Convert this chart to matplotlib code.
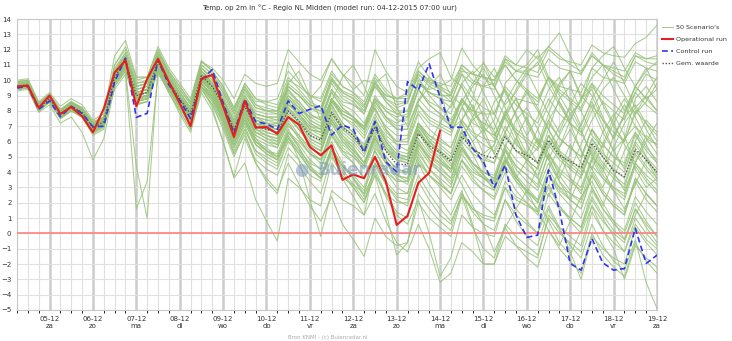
import matplotlib
matplotlib.use("Agg")
import matplotlib.pyplot as plt
import numpy as np

# time axis: 6-hourly steps from 04-12 06:00 (day numbers of December)
steps = 60
start_day = 4.25

day_labels = ["05-12\nza", "06-12\nzo", "07-12\nma", "08-12\ndi", "09-12\nwo",
              "10-12\ndo", "11-12\nvr", "12-12\nza", "13-12\nzo", "14-12\nma",
              "15-12\ndi", "16-12\nwo", "17-12\ndo", "18-12\nvr", "19-12\nza"]
day_ticks = list(range(5, 20))

operational = [9.6, 9.65, 8.2, 9.0, 7.8, 8.25, 7.65, 6.6, 8.15, 10.5, 11.3, 8.3, 10.1, 11.4,
               9.9, 8.5, 7.0, 10.1, 10.35, 8.3, 6.3, 8.65, 6.9, 6.95, 6.5, 7.6, 7.1, 5.65,
               5.1, 5.75, 3.5, 3.85, 3.6, 5.0, 3.4, 0.55, 1.15, 3.3, 3.95, 6.7]

control = [9.5, 9.6, 8.1, 8.65, 7.62, 8.3, 7.84, 6.97, 7.0, 9.9, 11.44, 7.58, 7.84, 11.33,
           9.7, 8.7, 7.5, 10.0, 10.7, 8.54, 6.53, 8.75, 7.3, 7.15, 6.8, 8.65, 7.83, 8.1,
           8.35, 6.42, 7.08, 6.8, 5.28, 7.3, 4.68, 4.03, 9.91, 9.37, 11.07, 8.9, 6.93,
           6.93, 5.55, 4.68, 3.0, 4.46, 1.2, -0.26, -0.11, 4.14, 1.52, -1.96, -2.4, -0.33,
           -1.92, -2.4, -2.29, 0.33, -1.96, -1.42]

mean_run = [9.6, 9.7, 8.2, 8.8, 7.8, 8.3, 7.9, 6.9, 7.3, 10.2, 11.3, 9.0, 9.2, 11.2, 9.9,
            8.8, 7.8, 10.3, 9.6, 8.4, 6.8, 8.3, 7.0, 6.8, 6.6, 8.0, 7.3, 6.4, 6.1, 7.9,
            6.9, 6.4, 5.4, 6.9, 5.4, 4.5, 4.5, 6.5, 5.7, 5.3, 4.7, 6.3, 5.5, 5.1, 4.9,
            6.3, 5.4, 5.1, 4.6, 6.1, 5.1, 4.7, 4.3, 5.9, 5.0, 4.1, 3.7, 5.5, 4.8, 4.0]

scenarios = [
    [9.8,9.9,8.4,9.0,8.0,8.6,8.1,7.2,7.6, 10.6,11.8,9.8,9.9,11.8,10.5,9.4,8.5, 11.0,10.4,9.4,8.0,9.6,8.4,8.2,8.0,
     9.6,9.0,8.4,8.2,10.1,9.3,9.0,8.3, 10.0,8.8,8.2,8.5,10.6,9.9,9.6,9.2,
     11.0,10.4,10.2,10.0,11.6,11.0,10.8,10.5,12.0,11.4,11.2,11.0,12.3,11.8,11.6,11.5,12.4,12.8,13.6],
    [9.5,9.6,8.1,8.7,7.6,8.2,7.8,6.7,7.1, 10.0,11.0,8.8,9.0,11.0,9.7,8.6,7.6, 10.1,9.3,8.2,6.6,8.4,7.2,7.0,7.2,
     8.8,8.2,7.6,7.6,9.4,8.6,8.4,8.0, 9.6,8.8,8.4,8.6,10.4,9.8,9.4,9.0,
     10.8,10.0,9.6,9.4,11.4,10.6,10.6,11.0,12.2,13.1,11.6,10.4,11.8,11.0,10.4,10.0,11.6,11.2,11.0],
    [9.4,9.5,8.0,8.6,7.5,8.0,7.6,6.5,6.9, 9.8,10.8,8.5,8.6,10.8,9.4,8.2,7.2, 9.6,8.8,7.6,5.8,7.4,5.8,5.2,4.8,
     6.4,5.4,4.2,3.6,5.6,4.4,3.6,2.4, 4.2,2.6,1.4,1.0,3.4,2.2,1.2,0.6,
     2.6,1.4,0.6,0.2,2.2,0.8,-0.2,-0.8,1.6,0.2,-0.8,-1.6,0.6,-0.8,-1.8,-2.4,-0.4,-3.2,-4.9],
    [9.7,9.8,8.3,8.9,7.9,8.4,8.0,7.0,7.4, 10.4,11.4,9.2,9.4,11.4,10.0,8.9,7.9, 10.2,9.4,8.0,6.2,7.6,6.0,5.6,5.0,
     6.8,5.6,4.4,3.6,5.2,3.6,2.4,1.2, 2.6,0.8,-0.6,-1.2,0.6,-1.0,-3.2,-2.6,
     -0.6,-1.2,-2.0,-2.0,0.4,-0.8,-1.6,-2.2,0.2,-1.0,-1.8,-2.6,0.0,-1.4,-2.2,-2.8,-0.6,-1.8,-2.6],
    [10.0,10.1,8.6,9.2,8.3,8.8,8.4,7.4,7.8, 11.6,12.6,10.2,10.2,12.2,10.8,9.8,8.8, 11.3,10.6,9.6,8.2,9.6,8.6,8.6,8.8,
     10.6,9.8,9.0,8.6,10.4,9.6,9.2,8.4, 9.8,10.4,8.2,7.0,8.6,10.2,9.4,6.8,
     7.4,8.8,11.2,9.6,8.2,6.6,5.2,6.8,8.4,9.8,10.6,8.8,9.4,7.6,6.2,7.8,9.2,10.4,10.0],
    [9.5,9.6,8.1,8.8,7.7,8.2,7.8,6.8,7.0, 9.4,10.4,1.6,3.4,10.4,9.4,8.4,7.4, 9.8,9.0,7.8,6.4,8.0,6.6,6.4,6.0,
     7.6,6.8,5.8,5.4,7.4,6.2,5.6,4.6, 6.4,4.8,3.8,3.6,6.0,5.0,4.4,3.6,
     5.6,4.6,4.0,3.6,5.6,4.4,3.8,3.0,5.2,4.0,3.4,2.8,4.8,3.6,2.8,2.2,4.4,3.4,2.6],
    [9.6,9.6,8.2,8.8,7.8,8.2,7.8,6.8,7.2, 9.8,10.6,4.4,1.0,10.8,9.6,8.6,7.6, 10.0,9.2,8.0,6.6,8.2,7.0,6.8,6.8,
     8.4,7.8,6.8,6.6,8.6,7.6,7.2,6.4, 8.2,6.8,6.0,6.2,8.4,7.4,7.0,6.6,
     8.2,7.2,6.8,6.4,7.8,6.8,6.2,5.6,7.4,6.2,5.6,5.0,6.8,5.8,5.0,4.6,6.6,5.6,4.8],
    [9.3,9.4,7.9,8.4,7.2,7.6,6.6,4.8,6.2, 9.6,10.6,8.4,8.6,10.6,9.2,7.8,6.6, 9.2,8.0,6.0,3.7,6.2,4.6,3.4,2.6,
     5.2,4.4,3.4,2.6,5.0,3.8,3.0,2.0, 4.4,3.2,2.4,2.2,4.8,3.8,3.2,2.6,
     4.8,3.8,3.2,2.8,4.8,3.6,2.8,2.0,4.2,3.0,2.2,1.6,3.8,2.6,1.8,1.2,3.6,2.6,1.8],
    [9.9,10.0,8.5,9.1,8.1,8.6,8.2,7.3,7.6, 11.0,12.0,10.0,10.2,12.0,10.6,9.6,8.6, 11.2,10.8,10.0,8.8,10.4,9.8,9.6,9.8,
     12.0,11.2,10.4,10.0,11.4,10.4,9.8,9.0, 12.0,10.6,9.6,9.2,10.8,11.4,11.8,10.2,
     9.6,8.2,6.6,7.4,9.8,10.6,11.0,12.0,10.2,9.0,7.8,8.6,10.8,11.6,12.2,10.8,9.6,8.8,9.4],
    [9.5,9.5,8.0,8.6,7.6,8.0,7.6,6.6,7.0, 9.8,10.8,8.6,8.8,10.6,9.2,8.0,6.8, 9.4,8.4,6.8,5.0,6.6,4.6,3.6,2.8,
     4.6,3.2,1.8,0.8,2.4,0.6,-0.4,-1.5, 1.0,-0.2,-0.8,-0.6,2.0,1.0,0.4,-0.2,
     2.4,1.6,1.2,1.0,3.4,2.4,2.0,1.4,3.8,2.8,2.2,1.6,3.8,2.6,1.8,1.2,3.4,2.2,1.4],
    [9.6,9.7,8.2,8.7,7.7,8.2,7.8,6.8,7.2, 10.0,11.0,8.8,9.0,11.0,9.6,8.2,7.0, 9.6,8.2,6.0,3.6,4.6,2.2,0.8,-0.5,
     3.6,3.0,2.2,1.8,4.6,3.6,3.2,2.6, 5.6,4.6,4.0,4.0,6.6,5.4,4.8,4.2,
     6.6,5.6,5.0,4.6,6.6,5.4,4.8,4.2,6.4,5.2,4.6,4.0,6.2,5.0,4.2,3.6,5.8,4.8,4.0],
    [9.7,9.8,8.3,8.9,7.9,8.5,8.1,7.1,7.4, 10.4,11.4,9.4,9.6,11.4,9.8,8.8,7.6, 10.2,9.4,8.0,6.2,7.6,6.2,5.4,4.8,
     6.4,4.8,2.2,-0.2,2.8,2.2,1.8,1.2, 4.6,3.4,2.6,2.6,5.2,4.2,3.6,3.0,
     5.4,4.6,4.0,3.8,5.8,4.8,4.2,3.6,5.8,4.8,4.2,3.6,5.6,4.4,3.6,3.0,5.2,4.2,3.4],
    [9.4,9.5,8.0,8.6,7.5,8.0,7.7,6.6,7.0, 9.9,10.8,8.6,8.8,10.8,9.4,8.4,7.4, 9.8,9.0,7.8,6.2,7.8,6.6,6.2,5.8,
     7.4,6.4,5.4,4.8,6.6,5.4,4.6,3.6, 5.4,4.0,3.0,2.6,4.6,3.2,2.2,1.2,
     2.8,0.6,-2.0,-2.0,-0.2,-0.8,-1.2,-1.6,1.2,0.4,-0.2,-0.8,1.8,0.8,0.0,-0.6,1.6,0.6,-0.2],
    [9.6,9.7,8.2,8.8,7.8,8.3,7.9,6.9,7.3, 10.2,11.2,9.0,9.2,11.2,9.8,8.6,7.6, 10.0,9.2,8.0,6.6,8.0,6.8,6.4,6.2,
     7.6,6.8,5.8,5.4,7.2,6.0,5.2,4.4, 6.0,4.6,3.6,3.2,5.0,3.8,3.0,2.2,
     3.8,2.6,1.8,1.2,3.0,1.6,0.8,0.0,1.8,0.4,-1.2,-3.0,-0.2,-1.0,-1.6,-2.0,0.4,-0.6,-1.4],
    [9.5,9.6,8.1,8.7,7.7,8.2,7.8,6.8,7.2, 10.2,11.2,9.0,9.2,11.0,9.6,8.4,7.2, 9.8,8.8,7.4,5.6,7.2,5.8,5.4,5.2,
     7.0,6.4,5.6,5.2,7.4,6.4,5.8,5.0, 6.8,5.6,4.8,4.6,6.8,5.6,5.0,4.2,
     5.8,4.6,3.8,3.2,4.8,3.4,2.4,1.6,3.2,1.8,0.8,0.0,1.8,0.2,-1.0,-3.0,-0.8,-1.6,-2.2],
    [9.8,9.9,8.4,9.0,8.0,8.5,8.2,7.1,7.5, 10.6,11.6,9.6,9.8,11.8,10.4,9.2,8.2, 10.8,10.2,9.2,7.8,9.4,8.4,8.0,8.0,
     9.6,9.0,8.2,7.8,9.8,8.8,8.4,7.8, 9.8,9.0,8.8,9.2,11.2,10.2,9.6,8.8,
     7.2,6.0,6.8,8.6,9.4,7.6,5.8,4.6,6.8,8.8,9.6,8.0,6.4,5.6,7.2,8.4,7.0,6.2,5.8],
    [9.7,9.8,8.3,8.9,7.9,8.4,8.0,7.0,7.4, 10.4,11.4,9.2,9.4,11.4,10.0,8.9,7.9, 10.4,9.8,8.8,7.2,8.8,7.8,7.6,7.4,
     9.0,8.2,7.4,7.0,8.8,8.0,7.6,6.8, 8.6,7.6,7.2,7.6,9.8,9.4,9.6,10.0,
     12.1,11.0,10.2,9.6,11.0,10.0,9.2,8.6,10.2,9.4,8.8,8.2,9.8,9.0,8.4,7.8,9.6,8.8,8.0],
    [9.6,9.7,8.2,8.8,7.8,8.3,7.9,6.9,7.3, 10.2,11.2,9.1,9.2,11.3,9.9,8.8,7.8, 10.3,9.6,8.5,6.9,8.4,7.2,7.0,6.8,
     8.4,7.8,7.0,6.8,8.8,8.0,7.6,7.0, 8.8,8.0,7.6,7.8,9.8,9.2,8.8,8.6,
     10.4,9.8,9.6,9.8,11.4,11.0,12.0,11.4,12.2,11.6,11.0,10.6,11.6,11.0,10.6,10.2,11.6,11.4,11.6],
    [9.5,9.6,8.1,8.7,7.7,8.2,7.8,6.8,7.2, 10.0,11.0,8.8,9.0,11.0,9.6,8.6,7.6, 10.2,9.4,8.2,6.6,8.2,7.0,6.8,6.6,
     8.2,7.6,6.8,6.6,8.6,7.8,7.4,7.0, 8.8,8.2,7.8,8.0,9.8,9.2,9.0,9.0,
     10.6,10.4,11.1,10.2,11.0,10.0,9.4,8.8,10.2,9.2,8.6,8.0,9.6,8.6,8.0,7.4,9.2,8.4,7.8],
    [9.6,9.6,8.1,8.7,7.8,8.2,7.8,6.8,7.1, 10.0,11.0,8.9,9.0,11.0,9.6,8.4,7.2, 9.6,8.6,7.2,5.4,6.8,5.2,4.6,4.2,
     6.0,5.2,4.2,3.6,5.6,4.4,3.6,2.8, 4.6,3.2,2.2,1.8,3.8,2.6,1.6,0.8,
     2.4,0.4,-1.0,-1.6,0.6,-0.2,-0.8,-1.4,1.0,0.0,-0.6,-1.2,1.4,0.2,-0.6,-1.2,1.0,0.0,-0.8],
    [9.8,9.8,8.3,8.9,7.9,8.5,8.1,7.1,7.5, 10.6,11.6,9.6,9.8,11.6,10.2,9.2,8.2, 10.8,10.0,8.8,7.4,9.0,7.8,7.6,7.6,
     9.4,8.6,7.8,7.4,9.4,8.4,8.0,7.2, 8.8,7.6,6.8,6.8,8.6,9.6,10.4,9.0,
     8.4,6.8,5.2,5.8,7.6,8.8,7.2,5.8,7.8,9.6,10.6,9.0,8.2,6.6,5.4,6.2,8.8,9.6,8.6],
    [9.6,9.7,8.2,8.7,7.8,8.3,8.0,7.0,7.3, 10.2,11.2,9.2,9.4,11.2,9.8,8.8,7.8, 10.4,9.6,8.4,7.0,8.6,7.4,7.0,6.8,
     8.2,7.4,6.4,6.0,7.8,6.8,6.2,5.4, 7.0,5.6,4.8,4.6,6.6,5.8,7.2,8.4,
     9.6,8.2,7.0,6.2,8.0,6.4,4.6,3.8,5.6,7.0,8.2,6.8,5.0,4.2,6.4,7.6,8.4,7.2,6.0],
    [9.5,9.6,8.0,8.6,7.6,8.1,7.7,6.7,7.0, 9.8,10.8,8.6,8.8,10.8,9.4,8.4,7.4, 9.8,9.0,7.8,6.2,7.8,6.4,6.0,5.6,
     7.2,6.2,5.2,4.6,6.4,5.2,4.6,3.6, 5.4,4.2,3.4,3.4,5.8,5.0,4.6,4.2,
     6.2,7.4,8.0,6.6,5.0,3.6,4.8,6.2,5.0,3.4,2.2,3.8,5.4,4.2,2.8,1.6,3.2,4.8,3.6],
    [9.7,9.7,8.2,8.8,7.7,8.2,7.8,6.8,7.2, 10.2,11.0,8.8,9.0,11.0,9.6,8.6,7.6, 10.0,9.4,8.4,7.0,8.8,7.6,7.4,7.4,
     9.2,8.6,7.8,7.4,9.2,8.2,7.6,6.8, 8.2,6.8,5.8,5.4,7.2,6.0,5.2,4.4,
     6.0,7.6,8.8,7.2,5.6,3.8,2.6,4.4,6.4,5.2,3.6,2.6,4.8,6.6,7.8,6.4,4.2,3.0,3.6],
    [9.9,10.0,8.5,9.0,8.0,8.6,8.2,7.2,7.6, 10.8,11.8,9.8,10.0,11.8,10.4,9.4,8.4, 11.0,10.4,9.4,8.0,9.8,8.8,8.6,8.4,
     10.2,9.4,8.6,8.2,10.2,9.2,8.8,8.0, 9.8,8.6,7.8,7.6,9.4,8.4,7.8,7.0,
     8.6,9.8,10.8,9.6,8.4,9.2,10.4,11.2,9.6,8.4,7.2,6.4,8.0,9.4,10.2,9.0,7.8,8.6,9.8],
    [9.4,9.5,8.0,8.6,7.6,8.1,7.7,6.7,7.1, 10.0,11.0,8.8,9.0,11.0,9.6,8.4,7.2, 9.6,8.6,7.2,5.2,6.4,4.8,4.2,3.8,
     5.6,4.8,3.8,3.4,5.4,4.4,3.8,3.0, 5.0,4.0,3.4,3.4,5.6,4.6,4.0,3.4,
     5.2,4.2,3.6,3.2,5.0,3.8,3.0,2.2,0.8,-0.6,-1.4,0.2,2.2,1.0,-0.2,-1.2,0.6,-0.4,-1.0],
    [9.6,9.7,8.2,8.8,7.8,8.4,8.0,7.0,7.4, 10.4,11.4,9.2,9.4,11.4,10.0,9.0,8.0, 10.6,9.8,8.6,7.0,8.6,7.2,6.8,6.6,
     8.6,7.6,6.6,6.2,8.4,7.2,6.6,5.6, 7.6,6.0,5.0,4.8,7.2,6.2,5.6,5.0,
     7.4,8.4,6.8,5.2,4.4,6.2,7.6,6.0,4.8,3.6,5.2,7.2,8.6,7.0,5.4,4.2,6.0,7.4,6.6],
    [9.5,9.6,8.1,8.7,7.7,8.2,7.8,6.8,7.2, 10.0,11.0,8.8,9.0,11.0,9.6,8.6,7.6, 10.0,9.2,8.0,6.4,8.0,6.8,6.4,6.2,
     7.8,7.0,6.0,5.6,7.6,6.6,6.0,5.2, 7.0,5.8,5.0,4.8,6.8,5.6,4.8,4.0,
     5.6,4.4,3.6,3.0,4.8,3.6,2.8,2.0,3.8,2.6,1.8,1.0,3.0,1.6,0.6,0.0,2.0,0.8,-0.2],
    [9.7,9.8,8.3,8.9,7.9,8.4,8.0,7.0,7.4, 10.4,11.4,9.2,9.4,11.4,10.0,9.0,8.0, 10.4,9.6,8.4,6.8,8.4,7.2,6.8,6.6,
     9.8,10.6,9.0,7.4,8.6,10.2,11.0,9.6, 8.0,7.0,6.4,6.4,8.4,7.6,7.2,6.8,
     8.6,8.0,7.8,7.8,9.6,8.8,8.6,8.4,10.2,9.6,9.4,9.2,10.8,10.2,10.0,9.8,11.2,10.8,10.6],
    [9.6,9.6,8.1,8.7,7.7,8.2,7.8,6.8,7.2, 10.0,11.0,8.8,9.0,11.0,9.6,8.6,7.6, 10.0,9.2,7.8,6.0,7.4,6.0,5.4,5.0,
     6.6,5.6,4.4,3.8,5.6,4.2,3.2,2.2, 3.8,1.4,-1.4,-0.6,2.6,1.6,0.8,0.2,
     2.6,1.6,1.0,0.8,3.0,2.2,1.8,1.4,3.8,3.0,2.6,2.2,4.4,3.6,3.0,2.6,4.6,3.8,3.2],
    [9.8,9.9,8.4,9.0,8.0,8.5,8.1,7.1,7.5, 10.6,11.6,9.6,9.8,11.6,10.2,9.2,8.2, 10.6,9.8,8.6,7.2,8.8,7.6,7.4,7.2,
     8.8,8.0,7.2,6.8,8.8,7.8,7.4,6.6, 8.4,7.4,6.8,6.8,8.8,8.0,7.6,7.0,
     8.8,8.0,9.6,10.8,9.2,7.8,6.4,7.6,9.4,10.2,8.6,7.0,8.8,10.0,11.2,9.8,8.2,9.0,10.2],
    [9.4,9.5,8.0,8.6,7.5,8.0,7.6,6.4,6.8, 9.6,10.6,8.4,8.6,10.6,9.2,8.0,6.8, 9.4,8.4,7.0,5.2,6.8,5.4,5.0,4.6,
     6.6,6.0,5.2,4.8,6.8,5.8,5.2,4.4, 6.2,5.0,4.2,4.0,6.2,5.2,4.6,4.0,
     6.0,5.2,4.8,4.6,6.4,5.4,4.8,4.2,6.0,5.0,4.4,3.8,5.8,4.6,3.8,3.2,5.4,4.4,3.6],
    [9.6,9.7,8.2,8.8,7.8,8.3,7.9,6.9,7.3, 10.2,11.2,9.0,9.2,11.2,9.9,8.8,7.8, 10.2,9.4,8.2,6.6,8.2,6.8,6.6,6.4,
     8.0,7.2,6.2,5.8,7.8,6.8,6.2,5.4, 7.2,6.0,5.2,5.0,7.0,6.0,5.4,4.8,
     6.6,5.2,3.8,2.8,4.6,6.2,5.0,3.6,2.4,4.2,5.8,4.6,3.0,1.8,3.6,5.4,6.6,5.0,3.8],
    [9.7,9.8,8.3,8.9,7.8,8.4,8.0,7.0,7.4, 10.6,11.6,9.4,9.6,11.6,10.2,9.0,8.0, 10.6,9.8,8.8,7.4,9.0,8.0,7.8,7.8,
     9.6,9.0,8.2,8.0,10.0,9.2,8.8,8.2, 10.2,9.2,8.6,8.6,10.4,9.6,9.2,8.6,
     10.4,9.2,7.6,6.4,7.8,9.4,10.6,9.2,7.8,6.6,8.4,9.8,9.0,7.4,6.2,7.8,9.6,10.8,9.4],
    [9.5,9.6,8.1,8.7,7.7,8.2,7.8,6.8,7.2, 10.0,11.0,8.9,9.0,11.0,9.6,8.6,7.6, 10.0,9.2,8.0,6.6,8.2,7.0,6.6,6.4,
     8.0,7.2,6.2,5.8,7.6,6.4,5.6,4.6, 6.2,4.8,3.8,3.4,5.4,4.2,3.4,2.6,
     4.4,3.4,2.8,2.4,4.4,3.4,2.8,2.2,4.2,5.6,6.8,5.4,4.2,3.0,4.6,6.2,7.0,5.8,4.6],
    [9.8,9.8,8.3,8.9,7.9,8.4,8.0,7.0,7.4, 10.4,11.4,9.2,9.4,11.4,10.0,9.0,8.0, 10.8,10.2,9.2,7.8,9.4,8.2,8.0,7.8,
     9.4,8.4,7.4,7.0,8.8,7.6,7.0,6.2, 7.8,6.6,6.0,6.0,8.0,7.2,6.8,6.4,
     8.2,9.6,10.4,9.0,7.6,6.0,4.8,5.6,7.4,8.6,7.2,5.4,4.2,5.8,7.6,8.8,7.6,6.2,5.2],
    [9.5,9.5,8.0,8.6,7.6,8.1,7.7,6.6,7.0, 9.8,10.8,8.6,8.8,10.8,9.4,8.2,7.2, 9.6,8.8,7.4,5.8,7.2,5.8,5.2,4.8,
     6.2,5.2,4.2,3.6,5.4,4.0,3.0,2.0, 3.8,2.6,2.0,2.0,4.6,3.8,3.2,2.6,
     4.8,4.0,3.6,3.4,5.4,4.4,3.8,3.2,5.2,4.2,3.6,3.0,5.0,3.8,3.0,2.4,4.6,3.6,2.8],
    [9.6,9.7,8.2,8.8,7.8,8.3,7.9,6.9,7.3, 10.2,11.2,9.0,9.2,11.2,9.8,8.8,7.8, 10.4,9.8,8.6,7.0,8.4,7.0,6.8,6.6,
     8.2,7.4,6.6,6.2,8.0,7.0,6.4,5.6, 7.4,6.2,5.4,5.2,7.2,6.4,5.8,5.2,
     7.2,6.0,4.4,3.4,5.6,7.4,8.2,6.8,5.2,3.8,2.8,4.8,6.8,5.4,4.0,2.8,4.6,6.4,5.8],
    [9.7,9.8,8.3,8.8,7.9,8.4,8.0,7.0,7.4, 10.4,11.4,9.4,9.6,11.4,10.0,9.0,8.0, 10.6,10.0,9.0,7.6,9.2,8.2,8.0,8.0,
     10.0,9.6,9.0,8.8,10.6,9.6,9.2,8.6, 10.4,9.4,8.8,8.8,10.2,9.0,8.2,7.4,
     8.8,7.8,7.2,6.8,8.6,9.8,10.8,11.6,10.0,8.6,7.4,8.8,10.2,11.0,9.4,8.0,9.6,10.6,11.2],
    [9.5,9.6,8.1,8.6,7.6,8.1,7.7,6.7,7.1, 9.8,10.8,8.6,8.8,10.8,9.4,8.4,7.4, 9.8,9.0,7.6,6.0,7.4,6.0,5.4,5.0,
     6.6,5.8,4.8,4.2,6.0,4.6,3.6,2.6, 4.0,2.4,1.2,0.6,2.2,0.0,-2.8,-1.6,
     1.2,0.4,0.0,-0.2,2.2,1.2,0.6,0.0,2.6,1.6,1.0,0.4,2.8,1.6,0.8,0.2,2.4,1.4,0.6],
    [9.6,9.6,8.1,8.7,7.7,8.2,7.8,6.8,7.2, 10.2,11.2,9.0,9.2,11.2,9.8,8.8,7.8, 10.2,9.4,8.2,6.8,8.4,7.2,6.8,6.6,
     8.4,7.8,7.0,6.6,8.4,7.2,6.6,5.8, 7.4,6.4,5.8,5.8,7.8,6.8,6.2,5.6,
     7.4,6.4,5.8,5.4,7.0,5.8,5.2,4.6,6.4,5.4,4.8,4.2,6.2,5.2,4.6,4.0,6.0,5.0,4.2],
    [9.7,9.8,8.3,8.9,7.9,8.4,8.0,7.0,7.4, 10.4,11.4,9.2,9.4,11.4,10.0,8.8,7.8, 10.4,9.6,8.4,6.8,8.4,7.4,7.2,7.2,
     9.0,8.4,7.6,7.2,9.2,8.2,7.6,6.8, 8.6,7.6,7.0,7.2,9.4,8.6,8.2,7.8,
     9.8,10.6,9.2,7.8,6.6,8.0,9.4,8.2,6.8,5.6,7.4,8.8,9.8,8.4,7.0,6.0,7.8,9.0,8.0],
    [9.5,9.6,8.1,8.7,7.7,8.2,7.8,6.8,7.2, 10.0,11.0,8.8,9.0,11.0,9.6,8.6,7.6, 10.0,9.2,8.0,6.4,8.0,6.6,6.2,6.0,
     7.6,6.8,5.8,5.4,7.4,6.2,5.4,4.6, 6.2,5.0,4.2,4.0,6.0,4.8,4.0,3.2,
     4.8,3.6,2.8,2.2,4.0,2.8,2.0,1.2,3.0,1.8,1.0,0.4,2.4,1.2,0.2,-0.4,1.6,0.4,-0.6],
    [9.6,9.7,8.2,8.8,7.8,8.3,7.9,6.9,7.3, 10.2,11.2,9.0,9.2,11.2,9.8,8.8,7.8, 10.2,9.6,8.6,7.2,8.8,7.6,7.2,7.0,
     8.6,7.8,6.8,6.4,8.2,7.0,6.4,5.6, 7.2,6.0,5.2,5.0,7.0,6.0,5.4,4.8,
     6.8,5.6,4.6,5.8,7.8,8.8,7.4,6.0,4.8,6.4,7.8,6.6,5.2,4.0,5.6,7.2,8.2,6.8,5.6],
    [9.8,9.9,8.4,9.0,8.0,8.5,8.1,7.1,7.5, 10.6,11.6,9.6,9.8,11.6,10.2,9.2,8.2, 10.6,9.8,8.6,7.2,8.8,7.8,7.6,7.6,
     11.2,10.0,8.8,9.6,11.4,10.4,9.4,10.0, 9.8,9.0,8.8,9.0,10.6,10.0,9.8,9.6,
     11.0,10.4,10.2,10.0,11.2,10.6,10.4,10.2,11.4,10.8,10.6,10.4,11.6,11.0,10.8,10.6,11.8,11.4,11.4],
    [9.5,9.5,8.0,8.6,7.6,8.0,7.6,6.6,7.0, 9.9,10.9,8.7,8.9,10.9,9.5,8.4,7.4, 9.8,9.0,7.6,6.0,7.6,6.2,5.8,5.6,
     7.2,6.2,5.2,4.8,6.8,5.6,5.0,4.2, 5.8,4.6,3.8,3.6,5.8,4.8,4.2,3.6,
     5.6,4.6,4.0,3.6,5.4,4.2,3.4,2.8,4.6,3.4,2.6,2.0,4.0,2.8,2.0,1.4,3.6,2.6,1.8],
    [9.7,9.7,8.2,8.8,7.8,8.3,7.9,6.9,7.3, 10.4,11.4,9.2,9.4,11.4,10.0,9.0,8.0, 10.4,9.6,8.4,7.0,8.6,7.4,7.2,7.0,
     8.8,8.0,7.2,6.8,8.8,7.8,7.4,6.8, 9.0,8.0,7.4,7.4,9.4,8.4,7.8,7.2,
     8.8,7.6,6.4,5.2,6.6,8.0,9.2,8.0,6.8,5.4,4.2,5.8,7.4,8.6,7.2,5.8,4.6,6.0,7.2],
    [9.5,9.6,8.1,8.7,7.7,8.2,7.8,6.8,7.1, 10.0,11.0,8.8,9.0,10.8,9.4,8.2,7.2, 9.8,8.8,7.4,5.6,7.0,5.4,4.8,4.4,
     6.2,5.4,4.6,4.2,6.4,5.4,5.0,4.4, 6.4,5.4,4.8,4.8,6.8,5.8,5.2,4.6,
     3.2,1.8,0.6,-1.2,0.4,1.6,2.8,1.4,0.2,-0.8,0.8,2.4,3.4,2.0,0.8,-0.4,1.2,2.6,1.8],
    [9.9,10.0,8.5,9.1,8.1,8.6,8.2,7.2,7.6, 11.0,12.2,10.2,10.2,12.0,10.6,9.6,8.6, 11.2,10.6,9.6,8.2,9.8,8.8,8.4,8.2,
     9.8,9.2,8.4,8.0,10.0,9.0,8.6,7.8, 9.6,8.6,8.0,8.0,10.0,9.2,8.8,8.2,
     9.8,8.8,8.2,7.8,9.4,8.4,7.8,7.2,8.8,7.8,7.2,6.6,8.4,7.4,6.6,6.0,8.0,7.2,6.4],
    [9.6,9.6,8.1,8.7,7.7,8.2,7.8,6.8,7.2, 10.0,11.0,8.8,9.0,11.0,9.6,8.4,7.4, 9.8,9.0,7.8,6.2,7.8,6.4,6.0,5.8,
     7.6,6.8,5.8,5.4,7.2,6.0,5.4,4.6, 6.6,5.6,5.0,5.0,7.2,6.4,6.0,5.6,
     7.4,6.6,6.2,6.0,7.6,6.6,6.0,5.4,7.2,6.2,5.6,5.0,6.8,5.8,5.0,4.4,6.4,5.4,4.6],
]

x = start_day + 0.25 * np.arange(steps)

fig = plt.figure(figsize=(7.32, 3.41), dpi=100)
ax = fig.add_axes([17 / 732, 31 / 341, 640 / 732, 291 / 341])

# grid: 6-hourly thin lines, daily thicker lines
ax.set_xticks(np.arange(start_day, 19.01, 0.25), minor=True)
ax.set_xticks(day_ticks)
ax.set_xticklabels(day_labels)
ax.grid(True, which="minor", axis="x", color="#e0e0e0", lw=0.8)
ax.grid(True, which="major", axis="x", color="#cccccc", lw=1.8)
ax.grid(True, which="major", axis="y", color="#e0e0e0", lw=0.8)
ax.set_axisbelow(True)

for i, s in enumerate(scenarios):
    ax.plot(x, s, color="#98c27a", lw=0.75, alpha=0.85,
            label="50 Scenario's" if i == 0 else None, zorder=2)

ax.axhline(0, color="#ff8080", lw=1.2, zorder=3)
ax.plot(x[:len(operational)], operational, color="#e81e1e", lw=1.5,
        label="Operational run", zorder=5)
ax.plot(x, control, color="#3333ee", lw=1.2, ls=(0, (3.5, 2)),
        label="Control run", zorder=4)
ax.plot(x, mean_run, color="#555555", lw=1.0, ls=(0, (1, 1.2)),
        label="Gem. waarde", zorder=4)

ax.set_xlim(start_day, 19.0)
ax.set_ylim(-5, 14)
ax.set_yticks(range(-5, 15))
ax.tick_params(axis="both", length=0, labelsize=5, colors="#333333")
ax.tick_params(axis="x", pad=4)
ax.tick_params(axis="y", pad=4)
for sp in ax.spines.values():
    sp.set_color("#c8c8c8")
    sp.set_linewidth(0.8)

# watermark
ax.text(0.55, 0.48, "Buienradar", transform=ax.transAxes, fontsize=12,
        fontweight="bold", color="#7d98c0", alpha=0.55, ha="center", va="center", zorder=6)
ax.text(0.445, 0.48, "\u25CF", transform=ax.transAxes, fontsize=12,
        color="#7d98c0", alpha=0.55, ha="center", va="center", zorder=6)

leg = ax.legend(loc="upper left", bbox_to_anchor=(1.008, 0.98), frameon=False,
                fontsize=4.6, handlelength=1.7, handletextpad=0.5,
                labelspacing=1.0, borderaxespad=0, borderpad=0)
for t in leg.get_texts():
    t.set_color("#333333")

fig.text(330 / 732, 1 - 8 / 341, "Temp. op 2m in \u00b0C - Regio NL Midden (model run: 04-12-2015 07:00 uur)",
         ha="center", va="center", fontsize=5, color="#333333")
fig.text(328 / 732, 1 - 337 / 341, "Bron KNMI - (c) Buienradar.nl",
         ha="center", va="center", fontsize=4, color="#aaaaaa")

fig.savefig("out.png", dpi=100)
